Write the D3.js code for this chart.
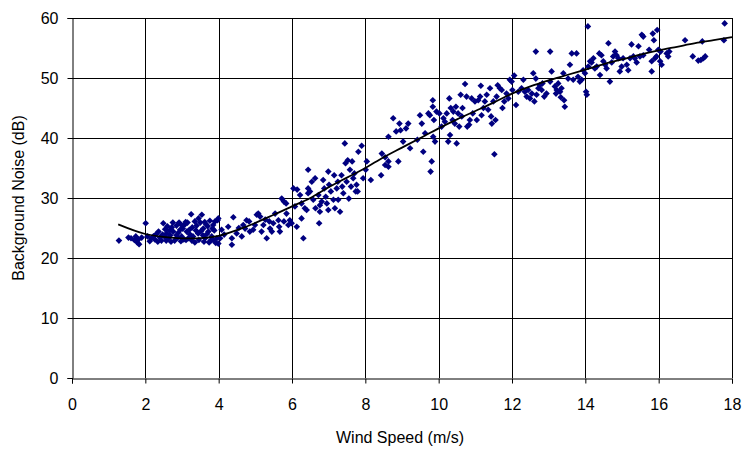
<!DOCTYPE html>
<html>
<head>
<meta charset="utf-8">
<script src="https://cdn.jsdelivr.net/npm/d3@7"></script>
<style>
  body { margin: 0; background: #fff; }
  svg text { font-family: "Liberation Sans", Arial, sans-serif; fill: #000; }
</style>
</head>
<body>
<svg id="chart" width="746" height="450"></svg>
<script>
// Wind speed (m/s) of every measurement
const windSpeed = [
  1.28,1.54,1.61,1.70,1.74,1.78,1.81,1.83,1.90,2.01,2.06,2.12,2.17,2.22,2.26,2.30,2.34,2.40,2.44,2.49,
  2.52,2.54,2.58,2.60,2.63,2.66,2.68,2.70,2.72,2.75,2.76,2.80,2.85,2.85,2.90,2.92,2.95,2.99,3.00,3.02,
  3.05,3.08,3.10,3.13,3.15,3.17,3.20,3.22,3.25,3.28,3.30,3.35,3.35,3.40,3.44,3.45,3.46,3.50,3.52,3.54,
  3.58,3.60,3.62,3.63,3.66,3.68,3.70,3.72,3.76,3.78,3.81,3.85,3.85,3.88,3.92,3.95,3.97,3.99,3.99,4.04,
  4.08,4.15,4.26,4.36,4.36,4.40,4.49,4.55,4.63,4.67,4.72,4.76,4.83,4.85,4.94,4.99,5.04,5.08,5.13,5.17,
  5.22,5.27,5.31,5.38,5.40,5.45,5.49,5.54,5.63,5.65,5.67,5.72,5.78,5.84,5.78,5.85,5.90,5.94,5.99,6.04,
  6.14,6.08,6.22,6.26,6.31,6.35,6.44,6.44,6.13,6.44,6.26,6.40,6.49,6.54,6.58,6.63,6.64,6.72,6.74,6.76,
  6.76,6.81,6.85,6.88,6.92,6.95,6.99,7.01,6.99,7.06,7.13,7.15,7.17,7.22,7.25,7.26,7.31,7.35,7.37,7.40,
  7.44,7.46,7.49,7.52,7.55,7.58,7.61,7.64,7.67,7.70,7.74,7.76,7.79,7.81,7.90,7.94,8.01,8.04,8.15,8.43,
  8.45,8.54,8.63,8.63,8.54,8.63,8.76,8.84,8.90,8.93,8.96,9.03,9.11,9.17,9.22,9.42,9.49,9.54,9.58,9.63,
  9.72,9.76,9.78,9.81,9.84,9.84,9.85,9.87,9.90,9.94,10.02,10.08,10.13,10.17,10.22,10.26,10.29,10.31,10.33,10.38,
  10.40,10.44,10.47,10.49,10.53,10.56,10.60,10.63,10.65,10.72,10.78,10.83,10.90,10.93,10.76,10.85,10.99,11.04,11.08,11.13,
  11.15,11.17,11.22,11.26,11.31,11.35,11.40,11.43,11.45,11.49,11.52,11.55,11.58,11.61,11.67,11.72,11.74,11.79,11.85,11.90,
  11.94,11.99,12.01,12.06,12.11,12.17,12.26,12.31,12.35,12.40,12.44,12.49,12.54,12.58,12.61,12.65,12.67,12.72,12.76,12.81,
  12.83,12.88,12.94,12.65,13.04,13.04,13.08,13.17,13.20,13.22,13.26,13.31,13.33,13.35,13.40,13.42,13.44,13.53,13.58,13.63,
  13.67,13.76,13.80,13.85,13.90,13.94,13.99,14.02,14.04,14.07,14.08,14.13,14.17,14.22,14.26,14.31,14.38,14.40,14.44,14.49,
  14.54,14.58,14.63,14.67,14.72,14.76,14.81,14.85,14.90,14.94,14.99,15.03,15.13,15.17,15.22,15.26,15.31,15.35,15.40,15.45,
  15.49,15.54,15.58,15.58,15.74,15.81,15.81,15.84,15.87,15.90,15.94,15.96,15.99,16.04,16.05,16.08,16.22,16.26,16.29,16.72,
  16.93,17.08,17.15,17.22,17.27,17.19,17.78,17.80,
  2.36,2.47,2.57,2.88,2.97,3.11,3.27,3.38,3.57,3.74,3.83,3.90
];

// Background noise (dB) measured at the same moments
const noise = [
  22.9,23.4,23.3,23.0,23.6,22.6,23.1,22.3,23.4,25.8,23.6,22.8,23.3,23.6,23.1,24.0,22.7,23.4,22.9,25.8,
  23.6,24.8,24.1,25.3,23.3,24.6,23.8,22.7,25.1,25.9,24.4,22.9,25.4,23.8,24.2,25.9,24.7,23.6,25.4,24.9,
  23.1,25.6,26.0,24.4,25.9,23.3,24.7,23.9,27.3,25.1,23.6,26.1,22.6,25.4,24.1,26.6,23.0,25.9,24.5,27.2,
  24.9,22.7,26.0,23.3,25.6,24.0,25.3,24.4,26.2,22.9,23.6,25.5,23.0,24.6,22.5,23.3,26.3,22.4,26.6,23.3,
  24.7,23.9,25.2,23.3,22.2,26.8,24.1,25.0,23.6,25.5,24.9,26.3,26.1,24.4,24.7,25.5,27.2,27.4,26.9,24.4,
  25.5,26.4,23.3,26.1,24.9,24.4,25.8,27.4,26.3,25.2,24.4,29.9,29.4,29.1,26.1,27.4,25.5,26.3,25.8,31.6,
  31.4,28.6,30.5,26.6,23.3,28.3,31.6,30.8,25.2,34.7,29.1,28.0,31.1,32.7,29.7,33.3,28.3,30.5,25.8,28.8,
  27.7,29.4,33.0,31.6,30.2,29.1,34.4,32.2,28.0,31.1,29.7,33.8,28.3,31.6,32.7,29.7,27.7,33.8,31.9,30.8,
  39.1,35.8,32.7,36.3,29.9,34.7,31.9,36.1,33.3,34.1,31.1,32.2,31.1,37.7,38.7,33.3,34.7,36.1,33.0,33.8,
  37.4,36.8,40.2,35.2,35.5,36.1,43.3,41.1,36.1,42.4,41.3,39.4,41.6,42.4,38.3,39.7,43.8,42.4,37.7,40.8,
  44.1,43.8,34.4,36.1,46.3,45.2,40.2,43.0,39.4,44.4,44.1,41.9,43.3,42.7,44.1,39.4,46.6,40.5,45.0,43.0,
  44.4,42.4,45.2,39.1,44.1,41.9,47.2,43.6,45.0,49.0,41.9,42.2,46.6,44.1,46.9,43.0,46.1,43.0,46.3,46.9,
  48.7,43.8,45.0,46.1,47.2,44.7,48.3,43.6,42.4,46.1,37.3,43.0,46.9,48.8,48.3,48.0,45.0,46.1,47.4,46.6,
  49.7,49.4,48.0,50.4,45.5,47.7,48.3,49.7,47.7,46.9,48.0,46.6,47.4,50.8,46.1,49.9,47.2,48.3,48.8,48.0,
  49.1,46.9,47.4,54.4,49.4,54.4,51.1,48.6,47.4,48.0,49.1,47.7,46.8,48.3,50.8,46.3,45.2,49.9,52.2,54.1,
  49.7,54.1,50.2,49.4,49.7,51.3,50.8,47.7,47.2,58.6,51.9,52.8,52.6,53.3,51.6,51.9,54.1,50.5,53.8,52.8,
  52.2,51.6,55.8,49.4,52.6,53.6,54.4,53.8,53.3,51.1,51.9,53.3,52.2,51.3,53.3,55.6,53.6,53.3,52.6,55.3,
  53.6,57.2,56.9,53.8,54.7,52.8,51.1,57.4,56.3,53.3,53.6,58.0,54.7,52.8,54.4,52.2,54.1,53.6,54.4,56.3,
  53.6,52.9,53.0,53.3,53.6,56.1,56.3,59.1,
  24.4,23.9,22.9,23.4,22.8,23.0,22.9,24.6,23.8,22.6,24.9,26.1
];

// Fitted trend line
const trendSpeed = [1.26,2.0,2.7,3.5,4.0,4.7,5.5,6.0,6.5,7.0,7.5,8.0,8.5,9.0,9.5,10.0,10.5,11.0,11.5,12.0,12.5,13.0,13.5,14.0,14.5,15.0,15.5,16.0,16.5,17.0,17.5,18.0];
const trendNoise = [25.6,24.0,23.4,23.3,23.7,25.1,27.2,28.6,30.0,31.8,33.4,35.0,36.8,38.4,40.0,41.6,43.1,44.5,45.9,47.4,48.6,49.6,50.5,51.4,52.3,53.1,53.9,54.6,55.2,55.8,56.3,56.8];

const xTicks = [0,2,4,6,8,10,12,14,16,18];
const yTicks = [0,10,20,30,40,50,60];

const svg = d3.select('#chart');

const xScale = d3.scaleLinear().domain([0, 18]).range([72, 732]);
const yScale = d3.scaleLinear().domain([0, 60]).range([378, 18]);

// grid lines
const grid = svg.append('g').attr('class', 'grid');
grid.selectAll('.hline')
  .data(yTicks.filter(d => d > 0))
  .enter().append('line')
    .attr('x1', xScale(0)).attr('x2', xScale(18))
    .attr('y1', d => Math.round(yScale(d)) + 0.5)
    .attr('y2', d => Math.round(yScale(d)) + 0.5)
    .attr('stroke', '#000');
grid.selectAll('.vline')
  .data(xTicks.filter(d => d > 0))
  .enter().append('line')
    .attr('y1', yScale(0)).attr('y2', yScale(60))
    .attr('x1', d => Math.round(xScale(d)) + 0.5)
    .attr('x2', d => Math.round(xScale(d)) + 0.5)
    .attr('stroke', '#000');

// axes
const xAxis = svg.append('g')
  .attr('transform', `translate(0, ${yScale(0) + 0.5})`)
  .call(d3.axisBottom(xScale).tickValues(xTicks).tickSize(5).tickPadding(15));
const yAxis = svg.append('g')
  .attr('transform', `translate(${xScale(0) + 0.5}, 0)`)
  .call(d3.axisLeft(yScale).tickValues(yTicks).tickSize(5).tickPadding(9));

[xAxis, yAxis].forEach(a => {
  a.select('.domain').attr('stroke', '#000');
  a.selectAll('.tick line').attr('stroke', '#000');
  a.selectAll('text').style('font-size', '16px').attr('fill', '#000');
});
yAxis.selectAll('text').attr('dy', '0.36em');

// scatter points
const points = windSpeed.map((w, i) => ({ w: w, n: noise[i] }));
const diamond = d3.symbol().type(d3.symbolSquare).size(22);
svg.append('g').attr('class', 'points')
  .selectAll('path')
  .data(points)
  .enter().append('path')
    .attr('d', diamond)
    .attr('transform', d => `translate(${xScale(d.w)}, ${yScale(d.n)}) rotate(45)`)
    .attr('fill', '#000080');

// trend line
const line = d3.line()
  .x((d, i) => xScale(trendSpeed[i]))
  .y(d => yScale(d))
  .curve(d3.curveCatmullRom);
svg.append('path')
  .datum(trendNoise)
  .attr('d', line)
  .attr('fill', 'none')
  .attr('stroke', '#000')
  .attr('stroke-width', 1.8);

// axis titles
svg.append('text')
  .attr('x', 400).attr('y', 443)
  .attr('text-anchor', 'middle')
  .style('font-size', '16px')
  .text('Wind Speed (m/s)');
svg.append('text')
  .attr('transform', `translate(24, 198) rotate(-90)`)
  .attr('text-anchor', 'middle')
  .style('font-size', '16px')
  .text('Background Noise (dB)');
</script>
</body>
</html>
